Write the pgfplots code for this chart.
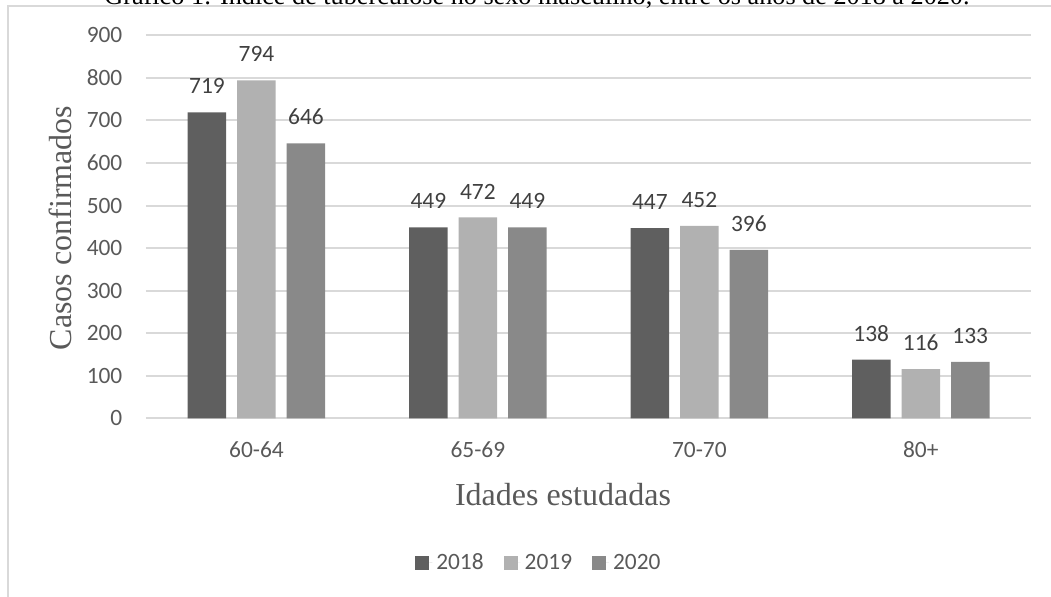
\documentclass[border=0pt]{standalone}
\usepackage{pgfplots}
\pgfplotsset{compat=1.18}
\usepackage{fontspec}
\setmainfont{Carlito}
\newfontfamily\tnr{Liberation Serif}
\definecolor{c18}{HTML}{5F5F5F}
\definecolor{c19}{HTML}{B1B1B1}
\definecolor{c20}{HTML}{898989}
\definecolor{gridc}{HTML}{D9D9D9}
\definecolor{txt}{HTML}{595959}
\definecolor{lbl}{HTML}{404040}
\begin{document}
\begin{tikzpicture}[x=0.5pt,y=0.5pt]
\draw[gridc, line width=0.75pt] (8,-5) -- (8,591) -- (1060,591);
\node[anchor=base, font=\tnr\fontsize{13.1}{14}\selectfont] at (537,592) {Gráfico 1: Índice de tuberculose no sexo masculino, entre os anos de 2018 a 2020.};
\begin{axis}[
  at={(72.875pt,89.25pt)}, anchor=south west,
  scale only axis, width=442.875pt, height=191.65pt,
  /pgf/number format/assume math mode=true,
  ybar=5.5pt, bar width=19.25pt,
  xmin=-0.5, xmax=3.5, ymin=0, ymax=900,
  xtick={0,1,2,3}, xticklabels={60-64,65-69,70-70,80+},
  ytick={0,100,...,900},
  axis x line*=bottom, axis y line*=left,
  x axis line style={gridc, line width=1pt, -},
  y axis line style={draw=none},
  major tick length=0pt,
  ymajorgrids, grid style={gridc, line width=1pt},
  tick label style={font=\fontsize{11.7}{13}\selectfont, text=txt, inner sep=0pt},
  xticklabel style={anchor=north, yshift=-11.5pt},
  yticklabel style={anchor=east, xshift=-11.5pt},
  nodes near coords,
  every node near coord/.append style={font=\fontsize{11.7}{13}\selectfont, text=lbl, inner sep=0pt, anchor=south, yshift=9pt},
  legend style={at={(0.445,-0.377)}, anchor=center, draw=none, fill=none, legend columns=3,
    font=\fontsize{11.7}{13}\selectfont, text=txt,
    /tikz/every even column/.append style={column sep=8pt}},
  legend image code/.code={\fill[#1] (0pt,-3.5pt) rectangle (7pt,3.5pt); \path (7pt,0pt) -- (8.5pt,0pt);},
]
\addplot[fill=c18, draw=none] coordinates {(0,719) (1,449) (2,447) (3,138)};
\addplot[fill=c19, draw=none] coordinates {(0,794) (1,472) (2,452) (3,116)};
\addplot[fill=c20, draw=none] coordinates {(0,646) (1,449) (2,396) (3,133)};
\legend{2018,2019,2020}
\end{axis}
\node[anchor=base, font=\tnr\fontsize{16}{18}\selectfont, text=txt] at (563,91) {Idades estudadas};
\node[rotate=90, font=\tnr\fontsize{16}{18}\selectfont, text=txt] at (60,369) {Casos confirmados};
\pgfresetboundingbox
\useasboundingbox (0,0) rectangle (1051,597);
\end{tikzpicture}
\end{document}
